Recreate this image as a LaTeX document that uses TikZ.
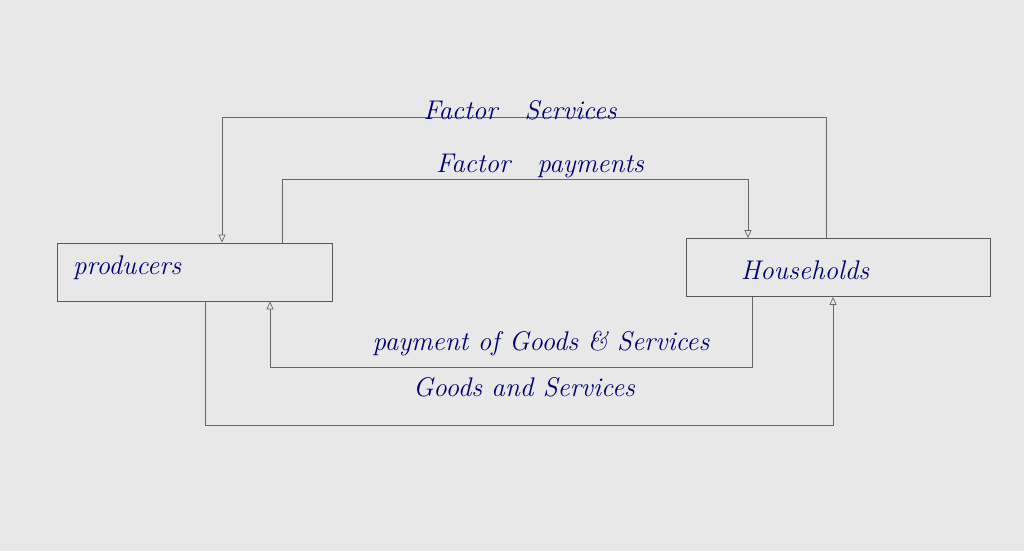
\documentclass[tikz,border=0pt]{standalone}
\usetikzlibrary{arrows.meta}
\begin{document}
\begin{tikzpicture}[x=1pt,y=-1pt,
  box/.style={draw=black!65,line width=0.8pt,minimum height=58pt,inner sep=0pt},
  flow/.style={draw=black!60,line width=0.7pt,-{Triangle[open,length=8pt,width=7pt]}},
  lbl/.style={text=blue!45!black,font=\itshape\fontsize{27}{27}\selectfont,inner sep=1pt}]
\fill[black!9] (0,0) rectangle (1024,551);
\useasboundingbox (0,0) rectangle (1024,551);
\node[box,minimum width=275pt] (pr) at (194.5,272) {};
\node[lbl,anchor=west] at (72,268) {producers};
\node[box,minimum width=304pt] (hh) at (838,267.5) {};
\node[lbl] at (805,270) {Households};
% Factor services
\coordinate (a1) at (826,117); \coordinate (a2) at (222,117);
\draw[flow] (hh.north -| a1) -- (a1) -- (a2) -- (pr.north -| a2);
\node[lbl] (t1) at (520,110) {Factor\quad Services};
% Factor payments
\coordinate (b1) at (282,179); \coordinate (b2) at (748,179);
\draw[flow] (pr.north -| b1) -- (b1) -- (b2) -- (hh.north -| b2);
\node[lbl] (t2) at (540,166) {Factor\quad payments};
% Payment of goods
\coordinate (c1) at (752,367); \coordinate (c2) at (270,367);
\draw[flow] (hh.south -| c1) -- (c1) -- (c2) -- (pr.south -| c2);
\node[lbl] (t3) at (541,344) {payment of Goods \& Services};
% Goods and services
\coordinate (d1) at (205,425); \coordinate (d2) at (833,425);
\draw[flow] (pr.south -| d1) -- (d1) -- (d2) -- (hh.south -| d2);
\node[lbl] (t4) at (524,387) {Goods and Services};
\end{tikzpicture}
\end{document}
